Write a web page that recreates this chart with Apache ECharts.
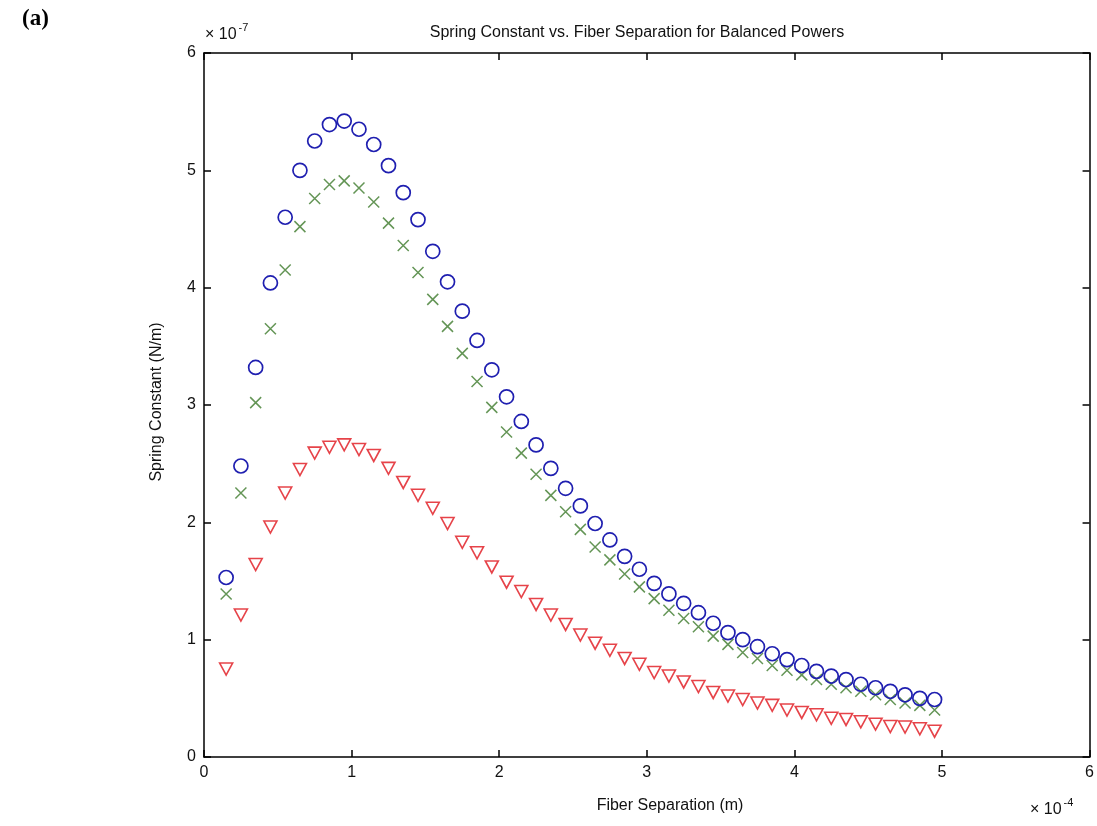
<!DOCTYPE html>
<html>
<head>
<meta charset="utf-8">
<script src="https://cdn.jsdelivr.net/npm/echarts@6/dist/echarts.min.js"></script>
<style>
	html, body { margin: 0; padding: 0; background: #fff; }
	#chart { width: 1097px; height: 826px; }
</style>
</head>
<body>
<div id="chart"></div>
<script>
	// fiber separation, in units of 1e-4 m
	const separation = [0.15, 0.25, 0.35, 0.45, 0.55, 0.65, 0.75, 0.85, 0.95, 1.05,
		1.15, 1.25, 1.35, 1.45, 1.55, 1.65, 1.75, 1.85, 1.95, 2.05,
		2.15, 2.25, 2.35, 2.45, 2.55, 2.65, 2.75, 2.85, 2.95, 3.05,
		3.15, 3.25, 3.35, 3.45, 3.55, 3.65, 3.75, 3.85, 3.95, 4.05,
		4.15, 4.25, 4.35, 4.45, 4.55, 4.65, 4.75, 4.85, 4.95]

	// spring constant, in units of 1e-7 N/m
	const circleVals = [1.53, 2.48, 3.32, 4.04, 4.60, 5.00, 5.25, 5.39, 5.42, 5.35,
		5.22, 5.04, 4.81, 4.58, 4.31, 4.05, 3.80, 3.55, 3.30, 3.07,
		2.86, 2.66, 2.46, 2.29, 2.14, 1.99, 1.85, 1.71, 1.60, 1.48,
		1.39, 1.31, 1.23, 1.14, 1.06, 1.00, 0.94, 0.88, 0.83, 0.78,
		0.73, 0.69, 0.66, 0.62, 0.59, 0.56, 0.53, 0.50, 0.49]

	const crossVals = [1.39, 2.25, 3.02, 3.65, 4.15, 4.52, 4.76, 4.88, 4.91, 4.85,
		4.73, 4.55, 4.36, 4.13, 3.90, 3.67, 3.44, 3.20, 2.98, 2.77,
		2.59, 2.41, 2.23, 2.09, 1.94, 1.79, 1.68, 1.56, 1.45, 1.35,
		1.25, 1.18, 1.11, 1.03, 0.96, 0.89, 0.84, 0.78, 0.74, 0.70,
		0.66, 0.62, 0.59, 0.56, 0.53, 0.49, 0.46, 0.44, 0.40]

	const triangleVals = [0.75, 1.21, 1.64, 1.96, 2.25, 2.45, 2.59, 2.64, 2.66, 2.62,
		2.57, 2.46, 2.34, 2.23, 2.12, 1.99, 1.83, 1.74, 1.62, 1.49,
		1.41, 1.30, 1.21, 1.13, 1.04, 0.97, 0.91, 0.84, 0.79, 0.72,
		0.69, 0.64, 0.60, 0.55, 0.52, 0.49, 0.46, 0.44, 0.40, 0.38,
		0.36, 0.33, 0.32, 0.30, 0.28, 0.26, 0.255, 0.24, 0.22]

	const tickLabels = ['0', '1', '2', '3', '4', '5', '6']

	const font = 'Liberation Sans, Arial, sans-serif'

	function pairs(vals) {
		return separation.map((x, i) => [x, vals[i]])
	}

	const chart = echarts.init(document.getElementById('chart'))

	// plain axis with ticks drawn inward (matlab look)
	function axis(pos, showLabel) {
		return {
			type: 'value',
			position: pos,
			min: 0,
			max: 6,
			interval: 1,
			axisLine: { show: true, onZero: false, lineStyle: { color: '#000', width: 1.5 } },
			axisTick: { show: true, inside: true, length: 7, lineStyle: { color: '#000', width: 1.5 } },
			axisLabel: {
				show: showLabel,
				color: '#111',
				fontFamily: font,
				fontSize: 16,
				margin: 8,
				formatter: v => tickLabels[v]
			},
			splitLine: { show: false }
		}
	}

	const supRich = {
		a: { fontFamily: font, fontSize: 16, fill: '#111', verticalAlign: 'bottom' },
		s: { fontFamily: font, fontSize: 11, fill: '#111', verticalAlign: 'top', padding: [0, 0, 10, 2] }
	}

	chart.setOption({
		backgroundColor: '#fff',
		animation: false,
		title: {
			text: 'Spring Constant vs. Fiber Separation for Balanced Powers',
			left: 632,
			top: 20,
			textAlign: 'center',
			textStyle: { fontFamily: font, fontSize: 16, fontWeight: 'normal', color: '#111' }
		},
		grid: { left: 204, right: 6, top: 53, bottom: 69 },
		xAxis: [axis('bottom', true), axis('top', false)],
		yAxis: [axis('left', true), axis('right', false)],
		graphic: [
			{
				type: 'text', left: 22, top: 8,
				style: { text: '(a)', font: 'bold 23px "Liberation Serif", "Times New Roman", serif', fill: '#000' }
			},
			{
				type: 'text', left: 205, top: 22,
				style: { text: '{a|× 10}{s|-7}', rich: supRich }
			},
			{
				type: 'text', left: 1030, top: 797,
				style: { text: '{a|× 10}{s|-4}', rich: supRich }
			},
			{
				type: 'text', x: 670, y: 806,
				style: { text: 'Fiber Separation (m)', fontFamily: font, fontSize: 16, fill: '#111', align: 'center', verticalAlign: 'middle' }
			},
			{
				type: 'text', x: 157, y: 402, rotation: Math.PI / 2,
				style: { text: 'Spring Constant (N/m)', fontFamily: font, fontSize: 16, fill: '#111', align: 'center', verticalAlign: 'middle' }
			}
		],
		series: [
			{
				type: 'scatter',
				data: pairs(triangleVals),
				symbol: 'path://M0,0L12,0L6,10Z',
				symbolSize: [13, 12],
				itemStyle: { color: 'rgba(0,0,0,0)', borderColor: '#e0141c', borderWidth: 1.6 }
			},
			{
				type: 'scatter',
				data: pairs(crossVals),
				symbol: 'path://M0,0L10,10M10,0L0,10',
				symbolSize: 11,
				itemStyle: { color: 'rgba(0,0,0,0)', borderColor: '#3d7a2c', borderWidth: 1.5 }
			},
			{
				type: 'scatter',
				data: pairs(circleVals),
				symbol: 'circle',
				symbolSize: 14,
				itemStyle: { color: 'rgba(0,0,0,0)', borderColor: '#1f1fb0', borderWidth: 1.7, opacity: 1 }
			}
		]
	})
</script>
</body>
</html>
